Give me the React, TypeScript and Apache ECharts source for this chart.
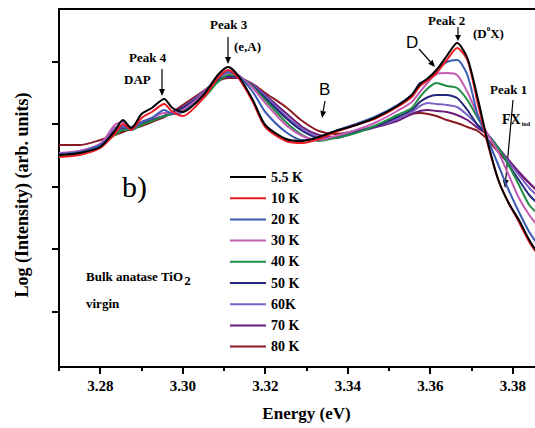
import React, { useEffect, useRef } from "react";
import * as echarts from "echarts";

// Photon energy (eV) sample points
const energies = [3.270, 3.275, 3.280, 3.2835, 3.2855, 3.2875, 3.290, 3.2925, 3.2955, 3.2975, 3.300,
  3.305, 3.3085, 3.311, 3.3135, 3.317, 3.320, 3.325, 3.329, 3.333,
  3.337, 3.342, 3.347, 3.352,
  3.3555, 3.3575, 3.3595, 3.3615, 3.364, 3.3665, 3.369, 3.3715, 3.374, 3.3765, 3.379, 3.3815, 3.384, 3.3865];

// Log intensity (arb. units) per temperature
const t5_5 = [21.2,21.4,22.0,23.6,24.7,23.9,25.3,25.9,26.8,25.9,25.5, 27.2,29.2,30.0,29.1,26.7,24.2,22.8,22.6,23.0, 23.6,24.2,25.0,26.1, 27.2,28.3,28.9,29.7,31.1,32.4,30.9,26.9,22.4,18.7,16.4,14.7,12.7,11.1];
const t10 = [21.0,21.2,21.9,23.3,24.3,23.7,24.9,25.5,26.3,25.5,25.1, 26.9,28.9,29.7,28.9,26.5,24.0,22.6,22.4,22.8, 23.5,24.2,24.9,26.0, 27.0,28.1,28.7,29.4,30.7,31.9,30.7,26.4,22.2,18.7,16.4,14.5,12.5,11.0];
const t20 = [21.3,21.5,22.2,23.4,24.0,23.7,24.5,24.9,25.7,25.3,25.5, 27.1,28.9,29.5,29.1,27.5,25.5,23.5,22.7,22.8, 23.6,24.3,25.1,26.2, 27.2,28.4,28.7,29.7,30.5,30.7,29.2,25.2,22.7,20.2,17.7,15.5,13.5,12.0];
const t30 = [21.4,21.6,22.3,24.2,24.5,23.9,24.5,24.9,25.4,25.4,25.7, 27.3,28.9,29.4,29.2,27.9,26.4,24.2,23.1,22.7, 23.1,23.7,24.5,25.6, 26.5,27.5,28.5,29.3,29.4,29.2,27.5,25.2,23.2,21.5,19.2,16.9,15.2,13.9];
const t40 = [21.1,21.4,22.1,23.2,23.7,23.7,24.2,24.6,25.1,25.3,25.7, 26.9,28.5,29.2,29.1,28.0,26.7,24.5,23.2,22.6, 22.9,23.4,24.2,25.2, 25.9,27.0,27.9,28.4,28.1,27.9,26.7,24.9,23.2,21.9,20.2,18.2,16.2,15.2];
const t50 = [21.3,21.5,22.2,23.3,23.7,23.9,24.3,24.7,25.1,25.4,25.9, 27.3,28.7,29.1,29.0,28.1,26.9,24.9,23.6,22.9, 22.9,23.5,24.1,25.0, 25.7,26.5,27.0,27.2,27.2,26.9,25.7,24.2,23.2,21.9,20.2,18.7,17.2,16.2];
const t60 = [21.2,21.5,22.3,23.9,24.1,24.0,24.4,24.7,25.1,25.4,25.9, 27.5,28.8,29.1,29.0,28.2,27.1,25.1,23.8,23.0, 22.9,23.5,24.1,24.8, 25.5,26.1,26.4,26.3,26.2,26.0,25.2,24.2,23.2,21.9,20.5,19.2,17.9,16.9];
const t70 = [21.3,21.6,22.3,23.6,23.9,24.0,24.3,24.7,25.1,25.5,26.0, 27.5,28.7,29.0,28.9,28.2,27.2,25.4,24.0,23.2, 23.0,23.5,24.0,24.6, 25.3,25.6,25.7,25.6,25.5,25.2,24.7,23.9,23.2,21.9,20.7,19.5,18.4,17.4];
const t80 = [22.2,22.2,22.7,23.2,23.5,23.8,24.1,24.5,25.0,25.5,26.2, 27.6,28.6,28.9,28.9,28.3,27.4,26.0,24.6,23.6, 23.3,23.6,24.1,24.8, 25.3,25.4,25.3,25.1,24.7,24.4,24.0,23.6,22.7,21.5,20.4,19.4,18.4,17.4];

const seriesNames = ["5.5 K", "10 K", "20 K", "30 K", "40 K", "50 K", "60K", "70 K", "80 K"];
const seriesValues = [t5_5, t10, t20, t30, t40, t50, t60, t70, t80];
const seriesColors = ["#000000", "#ee1c24", "#3b5bb4", "#c45cb4", "#1e8c44", "#23287a", "#7b62c4", "#6c1a7c", "#8a1a22"];

const majorTicks = [3.28, 3.30, 3.32, 3.34, 3.36, 3.38];
const minorTicks = [3.27, 3.29, 3.31, 3.33, 3.35, 3.37, 3.39];
const yTicks = [5.5, 11.8, 18.05, 24.3, 30.55];

const SERIF = "'Liberation Serif', 'Times New Roman', serif";
const SANS = "'Liberation Sans', Arial, sans-serif";

function arrow(x1: number, y1: number, x2: number, y2: number, head = 7, w = 3) {
  const dx = x2 - x1, dy = y2 - y1;
  const len = Math.sqrt(dx * dx + dy * dy);
  const ux = dx / len, uy = dy / len;
  const bx = x2 - ux * head, by = y2 - uy * head;
  const px = -uy * w, py = ux * w;
  return [
    { type: "line", shape: { x1, y1, x2: bx, y2: by }, style: { stroke: "#000", lineWidth: 1.2 } },
    { type: "polygon", shape: { points: [[x2, y2], [bx + px, by + py], [bx - px, by - py]] }, style: { fill: "#000" } },
  ];
}

function label(text: string, x: number, y: number, size = 13, family = SERIF, weight: any = "bold") {
  return {
    type: "text", x, y,
    style: { text, fill: "#000", fontSize: size, fontFamily: family, fontWeight: weight, textVerticalAlign: "middle" },
  };
}

export default function App() {
  const ref = useRef<HTMLDivElement>(null);
  useEffect(() => {
    document.body.style.margin = "0";
    const chart = echarts.init(ref.current!, null, { renderer: "svg" });
    const option: any = {
      animation: false,
      backgroundColor: "#fff",
      grid: {
        left: 59, top: 9, right: -19, bottom: 61, show: true, borderColor: "#000", borderWidth: 2,
        outerBoundsMode: "none", containLabel: false,
      },
      legend: {
        orient: "vertical", left: 230, top: 170, padding: 0, itemWidth: 36, itemHeight: 2, itemGap: 7.2,
        icon: "rect",
        textStyle: { fontFamily: SERIF, fontWeight: "bold", fontSize: 14, color: "#000" },
        data: seriesNames,
      },
      xAxis: [
        {
          type: "value", min: 3.27, max: 3.39,
          name: "Energy (eV)", nameLocation: "middle", nameGap: 38,
          nameTextStyle: { fontFamily: SERIF, fontWeight: "bold", fontSize: 17, color: "#000" },
          axisLine: { lineStyle: { color: "#000", width: 2 } },
          axisTick: { customValues: majorTicks, length: 7, lineStyle: { color: "#000", width: 2 } },
          axisLabel: {
            customValues: majorTicks, margin: 11, color: "#000", fontFamily: SERIF, fontWeight: "bold", fontSize: 15,
            formatter: (v: number) => v.toFixed(2),
          },
          splitLine: { show: false },
        },
        {
          type: "value", min: 3.27, max: 3.39, position: "bottom",
          axisLine: { show: false },
          axisTick: { customValues: minorTicks, length: 4, lineStyle: { color: "#000", width: 2 } },
          axisLabel: { show: false },
          splitLine: { show: false },
        },
      ],
      yAxis: {
        type: "value", min: 0, max: 35.8,
        axisLine: { show: true, lineStyle: { color: "#000", width: 2 } },
        axisTick: { show: true, customValues: yTicks, length: 7, lineStyle: { color: "#000", width: 2 } },
        axisLabel: { show: false },
        splitLine: { show: false },
      },
      series: seriesNames.map((name, i) => ({
        name, type: "line", xAxisIndex: 0, symbol: "none", smooth: 0.25,
        lineStyle: { color: seriesColors[i], width: 2 },
        itemStyle: { color: seriesColors[i] },
        data: energies.map((e, j) => [e, seriesValues[i][j]]),
        z: 10 - i,
      })),
      graphic: [
        {
          type: "text", x: 22, y: 195, rotation: Math.PI / 2,
          style: { text: "Log (Intensity) (arb. units)", fill: "#000", fontSize: 18, fontFamily: SERIF, fontWeight: "bold", textAlign: "center", textVerticalAlign: "middle" },
        },
        label("b)", 122, 186, 30, SERIF, "normal"),
        {
          type: "text", x: 86, y: 276,
          style: {
            text: "{a|Bulk anatase TiO}{s|2}", textVerticalAlign: "middle",
            rich: {
              a: { fontSize: 13, fontFamily: SERIF, fontWeight: "bold", color: "#000" },
              s: { fontSize: 13, fontFamily: SERIF, fontWeight: "bold", color: "#000", padding: [8, 0, 0, 1] },
            },
          },
        },
        label("virgin", 86, 303, 13),
        label("Peak 4", 129, 57),
        label("DAP", 124, 79),
        ...arrow(162, 69, 162, 96),
        label("Peak 3", 210, 24),
        label("(e,A)", 234, 46),
        ...arrow(228, 37, 228, 64),
        label("B", 319, 89, 17, SANS, "normal"),
        ...arrow(325, 101, 322, 118),
        label("D", 406, 42, 17, SANS, "normal"),
        ...arrow(419, 49, 435, 67),
        label("Peak 2", 428, 20),
        {
          type: "text", x: 473, y: 33,
          style: {
            text: "{a|(D}{s|0}{a|X)}", textVerticalAlign: "middle",
            rich: {
              a: { fontSize: 13, fontFamily: SERIF, fontWeight: "bold", color: "#000" },
              s: { fontSize: 7, fontFamily: SERIF, fontWeight: "bold", color: "#000", padding: [0, 0, 8, 0] },
            },
          },
        },
        ...arrow(458, 27, 458, 41, 6, 3),
        label("Peak 1", 490, 89),
        {
          type: "text", x: 502, y: 119,
          style: {
            text: "{a|FX}{s|ind}", textVerticalAlign: "middle",
            rich: {
              a: { fontSize: 14, fontFamily: SERIF, fontWeight: "bold", color: "#000" },
              s: { fontSize: 6, fontFamily: SERIF, fontWeight: "bold", color: "#000", padding: [10, 0, 0, 1] },
            },
          },
        },
        ...arrow(513, 100, 505, 188, 8, 3),
      ],
    };
    chart.setOption(option);
    return () => chart.dispose();
  }, []);
  return <div ref={ref} style={{ width: 535, height: 428 }} />;
}
